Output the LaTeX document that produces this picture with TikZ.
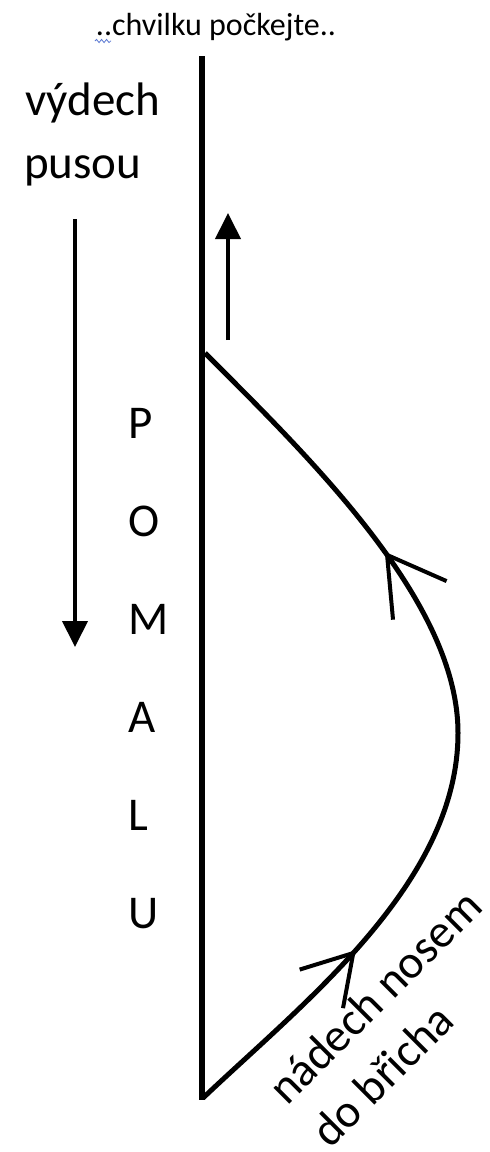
\documentclass[tikz,border=0pt]{standalone}
\usepackage{fontspec}
\setmainfont{Carlito}
\usetikzlibrary{arrows.meta,decorations.markings,decorations.pathmorphing,calc}
\definecolor{spellblue}{RGB}{90,120,210}

\begin{document}
\begin{tikzpicture}[x=1pt,y=-1pt,>={Triangle[length=26pt,width=25pt]},
  lbl/.style={inner sep=0pt,font=\fontsize{47}{56}\selectfont},
  note/.style={inner sep=0pt,font=\fontsize{32}{38}\selectfont}]
\useasboundingbox (0,0) rectangle (490,1152);
\def\lx{202}   % x of the main line
\def\dy{98}    % letter spacing
\coordinate (top) at (\lx,56);
\coordinate (bot) at (\lx,1100);
\coordinate (cA) at (205,353);
\coordinate (cR) at (458,733);
\coordinate (cB) at (203,1098);
\coordinate (dn1) at (75,219);
\coordinate (dn2) at (75,647);
\coordinate (up1) at (228,340);
\coordinate (up2) at (228,213);

\node[note,anchor=base] (title) at (216,35) {..chvilku počkejte..};
\draw[spellblue,line width=0.8pt,decorate,
  decoration={snake,amplitude=1.6pt,segment length=5pt}] (95,41) -- (111,41);

\node[lbl,anchor=base west] (vydech) at (25,115) {výdech};
\node[lbl,anchor=base west] (pusou) at (24,178) {pusou};
\foreach \ch [count=\i] in {P,O,M,A,L,U}
  \node[lbl,anchor=base west] (let\i) at (128,{438+(\i-1)*\dy}) {\ch};

\draw[line width=6pt] (top) -- (bot);
\draw[->,line width=4pt] (dn1) -- (dn2);
\draw[->,line width=4pt] (up1) -- (up2);

\draw[line width=5pt,postaction={decorate},decoration={markings,
    mark=at position 0.23 with {\arrow{Straight Barb[length=48pt,width=58pt,line width=4pt]}},
    mark=at position 0.71 with {\arrow{Straight Barb[length=56pt,width=66pt,line width=4pt]}}}]
  (cB) .. controls (303,1003) and (458,883) .. (cR)
       .. controls (458,603) and (315,463) .. (cA);

\node[lbl,rotate=45,anchor=base west] (nadech) at (287,1107) {nádech nosem};
\node[lbl,rotate=45,anchor=base west] (bricha) at ($(nadech.base west)+(43,43)$) {do břicha};
\end{tikzpicture}
\end{document}
